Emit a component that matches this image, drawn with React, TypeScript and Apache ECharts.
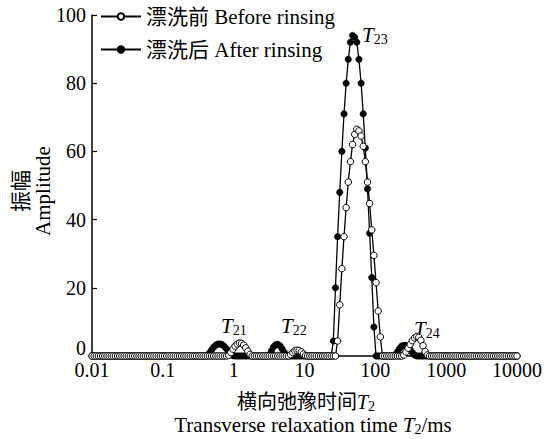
import React, { useEffect, useRef } from "react";
import * as echarts from "echarts";

// Sampling grid of the T2 inversion (log-spaced, 0.01 – 10000 ms)
const N_POINTS = 200;
const T2_GRID = Array.from({ length: N_POINTS }, (_, i) => Math.pow(10, -2 + (6 * i) / (N_POINTS - 1)));

const X_TICK_LABELS = ["0.01", "0.1", "1", "10", "100", "1000", "10000"];
const SERIES_NAMES = ["漂洗前 Before rinsing", "漂洗后 After rinsing"];

// 漂洗前 Before rinsing (open circles)
const BEFORE = [
  0, 0, 0, 0, 0, 0, 0, 0, 0, 0, 0, 0, 0, 0, 0, 0, 0, 0, 0, 0,
  0, 0, 0, 0, 0, 0, 0, 0, 0, 0, 0, 0, 0, 0, 0, 0, 0, 0, 0, 0,
  0, 0, 0, 0, 0, 0, 0, 0, 0, 0, 0, 0, 0, 0, 0, 0, 0, 0, 0, 0,
  0, 0, 0, 0, 0.2, 1.0, 2.0, 2.9, 3.5, 3.8, 3.7, 3.2, 2.4, 1.4, 0.5, 0, 0, 0, 0, 0,
  0, 0, 0, 0, 0, 0, 0, 0, 0, 0, 0, 0, 0, 0.4, 1.0, 1.5, 1.7, 1.6, 1.2, 0.6,
  0.1, 0, 0, 0, 0, 0, 0, 0, 0, 0, 0, 0, 0, 0, 0, 4.4, 15, 25.6, 35, 43.5,
  51, 57, 62, 65, 66.5, 66, 64.5, 61.5, 57, 51, 44.7, 37, 29.5, 21.5, 13.2, 5.6, 0, 0, 0, 0,
  0, 0, 0, 0, 0, 0, 0.3, 1.2, 2.3, 3.4, 4.5, 5.3, 5.7, 5.5, 4.6, 3.0, 1.3, 0.3, 0, 0,
  0, 0, 0, 0, 0, 0, 0, 0, 0, 0, 0, 0, 0, 0, 0, 0, 0, 0, 0, 0,
  0, 0, 0, 0, 0, 0, 0, 0, 0, 0, 0, 0, 0, 0, 0, 0, 0, 0, 0, 0,
];

// 漂洗后 After rinsing (filled circles)
const AFTER = [
  0, 0, 0, 0, 0, 0, 0, 0, 0, 0, 0, 0, 0, 0, 0, 0, 0, 0, 0, 0,
  0, 0, 0, 0, 0, 0, 0, 0, 0, 0, 0, 0, 0, 0, 0, 0, 0, 0, 0, 0,
  0, 0, 0, 0, 0, 0, 0, 0, 0, 0, 0, 0, 0, 0, 0.2, 0.9, 1.8, 2.6, 3.2, 3.5,
  3.5, 3.3, 2.8, 2.1, 1.3, 0.6, 0.1, 0, 0, 0, 0, 0, 0, 0, 0, 0, 0, 0, 0, 0,
  0, 0, 0, 0.3, 1.5, 2.7, 3.3, 3.4, 3.0, 2.1, 1.1, 0.3, 0, 0, 0, 0, 0, 0, 0, 0,
  0, 0, 0, 0, 0, 0, 0, 0, 0, 0, 0, 0, 0, 4.4, 20, 35, 48, 60, 71, 80,
  87, 92, 94, 93.5, 92, 87, 80, 71, 61, 49, 36, 23, 8.5, 0, 0, 0, 0, 0, 0, 0,
  0, 0, 0.3, 1.2, 2.2, 2.9, 3.1, 3.1, 2.7, 1.9, 1.0, 0.3, 0, 0, 0, 0, 0, 0, 0, 0,
  0, 0, 0, 0, 0, 0, 0, 0, 0, 0, 0, 0, 0, 0, 0, 0, 0, 0, 0, 0,
  0, 0, 0, 0, 0, 0, 0, 0, 0, 0, 0, 0, 0, 0, 0, 0, 0, 0, 0, 0,
];

const PEAK_NAMES = ["21", "22", "23", "24"];

const FONT = "'Times New Roman', 'Liberation Serif', 'Noto Sans CJK SC', serif";

function richStyles(size: number) {
  return {
    it: { fontStyle: "italic", fontFamily: FONT, fontSize: size, lineHeight: 22, fill: "#000" },
    sub: { fontFamily: FONT, fontSize: 14, lineHeight: 14, verticalAlign: "bottom", fill: "#000" },
  };
}

function richText(text: string, x: number, y: number, align: string, size = 21) {
  return {
    type: "text",
    x,
    y,
    style: {
      text,
      rich: richStyles(size),
      fontFamily: FONT,
      fontSize: size,
      lineHeight: 22,
      align,
      verticalAlign: "middle",
      fill: "#000",
    },
  };
}

export default function App() {
  const ref = useRef<HTMLDivElement>(null);

  useEffect(() => {
    if (!ref.current) return;
    const chart = echarts.init(ref.current, null, { renderer: "svg" });

    const beforeData = T2_GRID.map((t, i) => [t, BEFORE[i]]);
    const afterData = T2_GRID.map((t, i) => [t, AFTER[i]]);

    chart.setOption({
      animation: false,
      backgroundColor: "#fff",
      grid: { left: 92, right: 30, top: 15, bottom: 83, outerBoundsMode: "none" },
      legend: {
        data: SERIES_NAMES,
        orient: "vertical",
        left: 95,
        top: 0,
        itemWidth: 40,
        itemHeight: 8,
        itemGap: 10,
        textStyle: { fontFamily: FONT, fontSize: 21, color: "#000", lineHeight: 23 },
      },
      xAxis: {
        type: "log",
        logBase: 10,
        min: 0.01,
        max: 10000,
        axisLine: { lineStyle: { color: "#000", width: 1.5 } },
        axisTick: { show: true, inside: true, length: 4, lineStyle: { color: "#000", width: 1.2 } },
        minorTick: { show: false },
        splitLine: { show: false },
        axisLabel: {
          fontFamily: FONT,
          fontSize: 20,
          color: "#000",
          margin: 4,
          formatter: (v: number) => X_TICK_LABELS[Math.round(Math.log10(v)) + 2] ?? "",
        },
      },
      yAxis: {
        type: "value",
        min: 0,
        max: 100,
        interval: 20,
        axisLine: { show: true, lineStyle: { color: "#000", width: 1.5 } },
        axisTick: { show: true, inside: true, length: 5, lineStyle: { color: "#000", width: 1.2 } },
        splitLine: { show: false },
        axisLabel: {
          fontFamily: FONT,
          fontSize: 20,
          color: "#000",
          margin: 6,
          formatter: (v: number) => (v === 0 ? "{z|0}" : String(v)),
          rich: { z: { fontFamily: FONT, fontSize: 20, color: "#000", padding: [0, 0, 16, 0] } },
        },
      },
      series: [
        {
          name: SERIES_NAMES[1],
          type: "line",
          data: afterData,
          symbol: "circle",
          symbolSize: 6.5,
          showAllSymbol: true,
          lineStyle: { color: "#000", width: 1.3 },
          itemStyle: { color: "#000", borderColor: "#000", borderWidth: 0.5 },
          z: 2,
        },
        {
          name: SERIES_NAMES[0],
          type: "line",
          data: beforeData,
          symbol: "circle",
          symbolSize: 6.5,
          showAllSymbol: true,
          lineStyle: { color: "#000", width: 1.3 },
          itemStyle: { color: "#fff", borderColor: "#000", borderWidth: 1 },
          z: 3,
        },
      ],
      graphic: [
        {
          type: "text",
          x: 21,
          y: 191,
          rotation: Math.PI / 2,
          style: { text: "振幅", fontFamily: FONT, fontSize: 21, align: "center", verticalAlign: "middle", fill: "#000" },
        },
        {
          type: "text",
          x: 43,
          y: 191,
          rotation: Math.PI / 2,
          style: { text: "Amplitude", fontFamily: FONT, fontSize: 21, align: "center", verticalAlign: "middle", fill: "#000" },
        },
        richText("横向弛豫时间{it|T}{sub|2}", 306, 402, "center", 20),
        richText("Transverse relaxation time {it|T}{sub|2}/ms", 313, 425, "center", 21),
        richText(`{it|T}{sub|${PEAK_NAMES[0]}}`, 221, 326, "left"),
        richText(`{it|T}{sub|${PEAK_NAMES[1]}}`, 281, 326, "left"),
        richText(`{it|T}{sub|${PEAK_NAMES[2]}}`, 362, 35, "left"),
        richText(`{it|T}{sub|${PEAK_NAMES[3]}}`, 414, 329, "left"),
      ],
    });

    return () => chart.dispose();
  }, []);

  return (
    <div
      ref={ref}
      style={{ position: "fixed", left: 0, top: 0, width: 547, height: 439 }}
    />
  );
}
